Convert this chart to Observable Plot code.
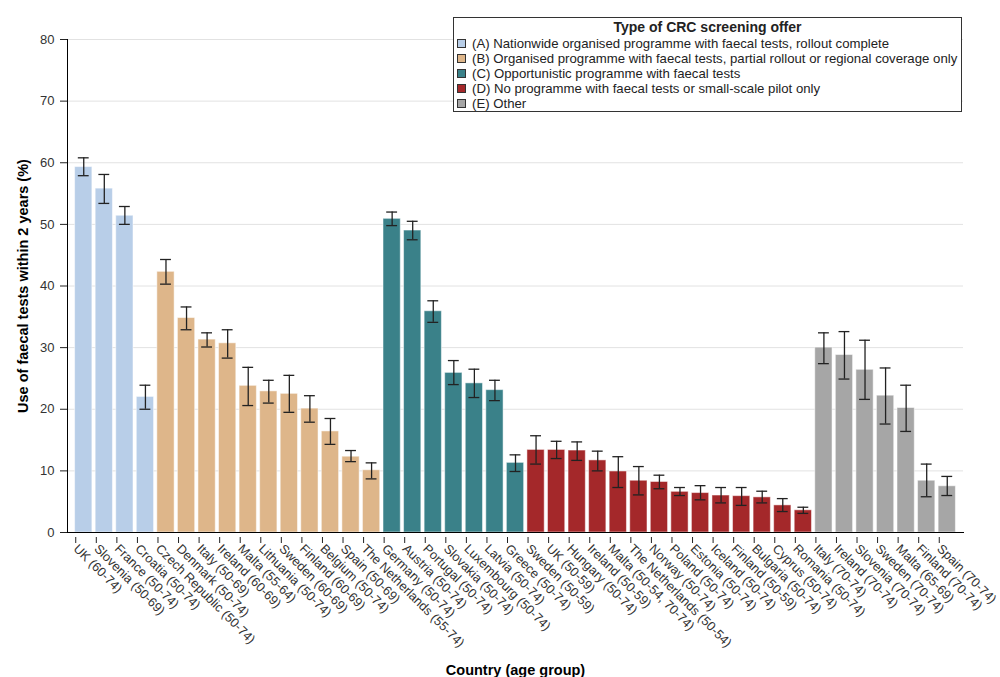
<!DOCTYPE html>
<html>
<head>
<meta charset="utf-8">
<script src="https://cdn.jsdelivr.net/npm/d3@7"></script>
<script src="https://cdn.jsdelivr.net/npm/@observablehq/plot@0.6"></script>
<style>
  body { margin: 0; background: white; font-family: "Liberation Sans", Arial, sans-serif; }
  #wrap { position: relative; width: 1000px; height: 677px; }
  #legend { position: absolute; left: 453px; top: 17px; width: 509px; height: 95px;
            border: 1px solid #333; background: white; box-sizing: border-box; font-size: 13.2px; color: #222; }
  #legend .title { text-align: center; font-weight: bold; font-size: 14px; margin-top: 1px; line-height: 17px; }
  #legend .item { display: flex; align-items: center; height: 15px; padding-left: 3px; }
  #legend .sw { width: 9px; height: 9px; border: 1px solid #333; margin-right: 6px; box-sizing: border-box; }
  g[aria-label="x-axis label"] text, g[aria-label="y-axis label"] text { font-weight: bold; font-size: 14.5px; fill: #000; }
</style>
</head>
<body>
<div id="wrap"></div>
<script>
const countries = [
  "UK (60-74)", "Slovenia (50-69)", "France (50-74)", "Croatia (50-74)",
  "Czech Republic (50-74)", "Denmark (50-74)", "Italy (50-69)", "Ireland (60-69)", "Malta (55-64)",
  "Lithuania (50-74)", "Sweden (60-69)", "Finland (60-69)", "Belgium (50-74)", "Spain (50-69)", "The Netherlands (55-74)",
  "Germany (50-74)", "Austria (50-74)", "Portugal (50-74)", "Slovakia (50-74)", "Luxembourg (50-74)", "Latvia (50-74)", "Greece (50-74)",
  "Sweden (50-59)", "UK (50-59)", "Hungary (50-74)", "Ireland (50-59)", "Malta (50-54, 70-74)", "The Netherlands (50-54)",
  "Norway (50-74)", "Poland (50-74)", "Estonia (50-74)", "Iceland (50-74)", "Finland (50-59)", "Bulgaria (50-74)", "Cyprus (50-74)", "Romania (50-74)",
  "Italy (70-74)", "Ireland (70-74)", "Slovenia (70-74)", "Sweden (70-74)", "Malta (65-69)", "Finland (70-74)", "Spain (70-74)"
];
const groupOf = [
  "A","A","A","A",
  "B","B","B","B","B","B","B","B","B","B","B",
  "C","C","C","C","C","C","C",
  "D","D","D","D","D","D","D","D","D","D","D","D","D","D",
  "E","E","E","E","E","E","E"
];
const values = [
  59.3, 55.8, 51.4, 22.0,
  42.3, 34.8, 31.3, 30.7, 23.8, 22.9, 22.5, 20.1, 16.4, 12.3, 10.1,
  50.9, 49.0, 35.9, 25.9, 24.2, 23.1, 11.3,
  13.4, 13.4, 13.3, 11.7, 9.9, 8.4, 8.2, 6.6, 6.4, 6.0, 5.9, 5.7, 4.4, 3.6,
  30.0, 28.8, 26.4, 22.2, 20.2, 8.4, 7.5
];
const lower = [
  57.9, 53.4, 50.0, 20.0,
  40.3, 32.9, 30.1, 28.3, 20.6, 21.0, 19.5, 17.9, 14.3, 11.5, 8.7,
  49.8, 47.5, 34.1, 24.0, 21.9, 21.4, 9.9,
  11.1, 12.0, 11.7, 10.0, 7.3, 6.1, 7.1, 6.0, 5.3, 4.8, 4.4, 4.8, 3.4, 3.1,
  27.4, 24.9, 21.6, 17.6, 16.4, 5.8, 6.0
];
const upper = [
  60.8, 58.1, 52.9, 23.9,
  44.3, 36.6, 32.4, 32.9, 26.8, 24.7, 25.5, 22.2, 18.5, 13.3, 11.3,
  52.0, 50.5, 37.6, 27.9, 26.5, 24.7, 12.6,
  15.7, 14.8, 14.7, 13.2, 12.3, 10.7, 9.3, 7.3, 7.6, 7.3, 7.3, 6.7, 5.5, 4.1,
  32.4, 32.6, 31.2, 26.7, 23.9, 11.1, 9.1
];
const groupKeys = ["A", "B", "C", "D", "E"];
const groupLabels = [
  "(A) Nationwide organised programme with faecal tests, rollout complete",
  "(B) Organised programme with faecal tests, partial rollout or regional coverage only",
  "(C) Opportunistic programme with faecal tests",
  "(D) No programme with faecal tests or small-scale pilot only",
  "(E) Other"
];
const groupColors = ["#b8cee8", "#deb68a", "#3a8189", "#a4282a", "#a6a6a6"];
const yTicks = [0, 10, 20, 30, 40, 50, 60, 70, 80];

const data = countries.map((c, i) => ({country: c, group: groupOf[i], value: values[i], lo: lower[i], hi: upper[i]}));

const chart = Plot.plot({
  width: 1000,
  height: 677,
  marginLeft: 67,
  marginRight: 37,
  marginTop: 39,
  marginBottom: 145,
  style: {fontFamily: "'Liberation Sans', Arial, sans-serif", fontSize: "13px", background: "white", color: "#222", overflow: "visible"},
  x: {domain: countries, paddingInner: 0.16, paddingOuter: 0.37, round: false},
  y: {domain: [0, 80]},
  color: {domain: groupKeys, range: groupColors},
  marks: [
    Plot.gridY(yTicks, {stroke: "#e2e2e2", strokeOpacity: 1}),
    Plot.barY(data, {x: "country", y: "value", fill: "group", stroke: "white", strokeOpacity: 0.5, strokeWidth: 1}),
    Plot.ruleX(data, {x: "country", y1: "lo", y2: "hi", stroke: "#222", strokeWidth: 1.3}),
    Plot.tickY(data, {x: "country", y: "lo", stroke: "#222", strokeWidth: 1.3, insetLeft: 3.2, insetRight: 3.2}),
    Plot.tickY(data, {x: "country", y: "hi", stroke: "#222", strokeWidth: 1.3, insetLeft: 3.2, insetRight: 3.2}),
    Plot.axisY(yTicks, {tickSize: 7, tickPadding: 6, fontSize: 13, fill: "#333", label: "Use of faecal tests within 2 years (%)", labelAnchor: "center", labelArrow: "none", labelOffset: 50}),
    Plot.axisX({tickSize: 6, tickPadding: 3, tickRotate: 45, fontSize: 12.8, fill: "#333", dx: -8, dy: 5, label: "Country (age group)", labelAnchor: "center", labelArrow: "none", labelOffset: 142}),
    Plot.frame({anchor: "left", stroke: "#000"}),
    Plot.frame({anchor: "bottom", stroke: "#000"})
  ]
});
const wrap = document.getElementById("wrap");
wrap.appendChild(chart);

const legend = document.createElement("div");
legend.id = "legend";
const t = document.createElement("div");
t.className = "title";
t.textContent = "Type of CRC screening offer";
legend.appendChild(t);
groupKeys.forEach((k, i) => {
  const row = document.createElement("div");
  row.className = "item";
  const sw = document.createElement("span");
  sw.className = "sw";
  sw.style.background = groupColors[i];
  const lab = document.createElement("span");
  lab.textContent = groupLabels[i];
  row.appendChild(sw);
  row.appendChild(lab);
  legend.appendChild(row);
});
wrap.appendChild(legend);
</script>
</body>
</html>
